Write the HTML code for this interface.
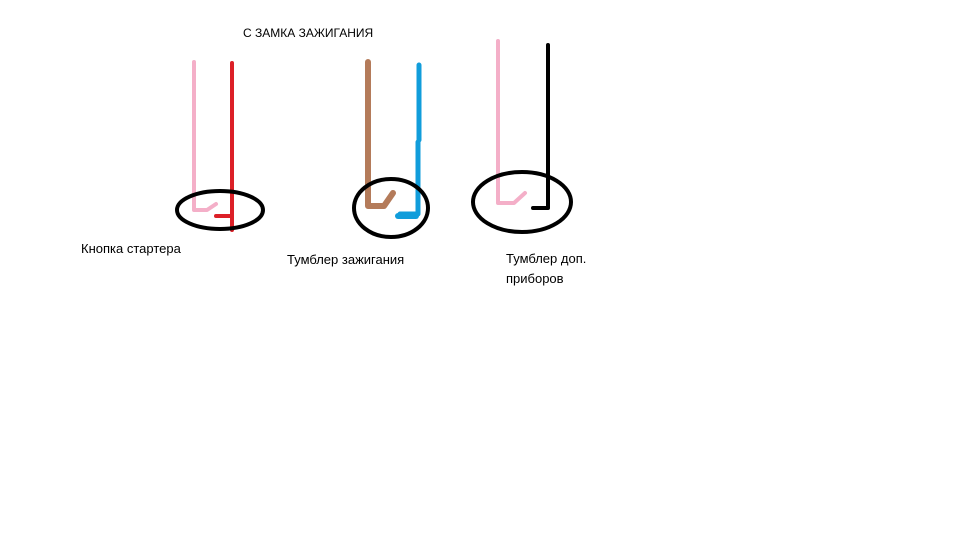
<!DOCTYPE html>
<html><head><meta charset="utf-8"><style>
body{margin:0;width:960px;height:540px;background:#fff;overflow:hidden;position:relative;font-family:"Liberation Sans","DejaVu Sans",sans-serif;}
.t{position:absolute;font-size:13px;color:#000;line-height:18px;white-space:nowrap}
svg{position:absolute;left:0;top:0}
</style></head><body>
<svg width="960" height="540" fill="none" stroke-linecap="round" stroke-linejoin="round">
<!-- group 1 -->
<path d="M194 62 V210 H207 L216 204" stroke="#f4afc8" stroke-width="4"/>
<path d="M232 63 V230" stroke="#dc2027" stroke-width="4"/>
<path d="M216 216 H232" stroke="#dc2027" stroke-width="4"/>
<ellipse cx="220" cy="210" rx="43" ry="19" stroke="#000" stroke-width="4"/>
<!-- group 2 -->
<path d="M368 62 V206 H384 L393 193" stroke="#b47b5a" stroke-width="6"/>
<path d="M419 65 V140 M418 142 V214 H400" stroke="#119ddb" stroke-width="5"/>
<path d="M398 216 H416" stroke="#119ddb" stroke-width="6"/>
<ellipse cx="391" cy="208" rx="37" ry="29" stroke="#000" stroke-width="4"/>
<!-- group 3 -->
<path d="M498 41 V203 H514 L525 193" stroke="#f4afc8" stroke-width="4"/>
<path d="M548 45 V208 H533" stroke="#000" stroke-width="4"/>
<ellipse cx="522" cy="202" rx="49" ry="30" stroke="#000" stroke-width="4"/>
</svg>
<div class="t" style="left:243px;top:24px;font-size:12px">С ЗАМКА ЗАЖИГАНИЯ</div>
<div class="t" style="left:81px;top:240px">Кнопка стартера</div>
<div class="t" style="left:287px;top:251px">Тумблер зажигания</div>
<div class="t" style="left:506px;top:249px;line-height:20px">Тумблер доп.<br>приборов</div>
</body></html>
